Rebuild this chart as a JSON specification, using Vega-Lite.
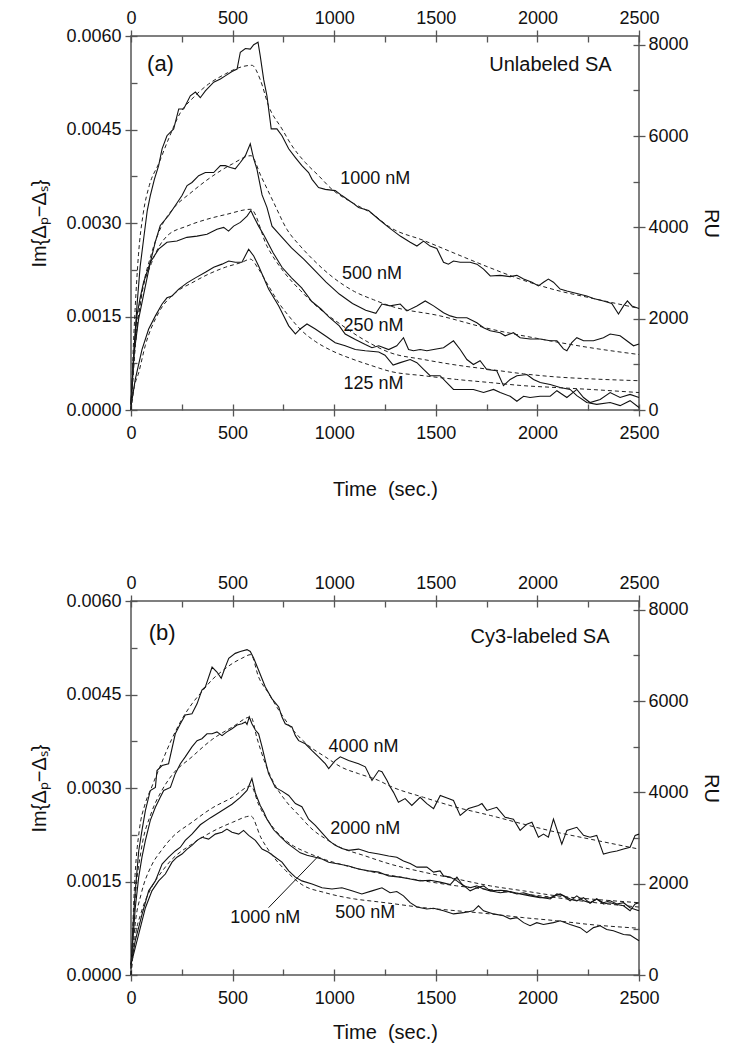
{
  "$schema": "https://vega.github.io/schema/vega-lite/v6.json",
  "padding": {"left": 29, "top": 8, "right": 12, "bottom": 0},
  "spacing": 73,
  "config": {
    "view": {"stroke": "#555", "strokeWidth": 1.5},
    "font": "Liberation Sans",
    "axis": {
      "domain": false, "grid": false, "offset": -6,
      "tickColor": "#555", "tickWidth": 1.3,
      "labelFont": "Liberation Sans", "labelFontSize": 18, "labelColor": "#111",
      "titleFont": "Liberation Sans", "titleFontSize": 20, "titleFontWeight": "normal", "titleColor": "#111",
      "labelFlush": false, "labelOverlap": false, "labelBound": false
    }
  },
  "datasets": {
    "data_a": [
      {"conc":1000,"time":0,"im":0.0001},{"conc":1000,"time":15,"im":0.001},{"conc":1000,"time":30,"im":0.0017},{"conc":1000,"time":45,"im":0.0023},{"conc":1000,"time":62,"im":0.00274},{"conc":1000,"time":80,"im":0.0032},{"conc":1000,"time":95,"im":0.00344},{"conc":1000,"time":115,"im":0.0037},{"conc":1000,"time":136,"im":0.00392},{"conc":1000,"time":153,"im":0.00419},{"conc":1000,"time":177,"im":0.0044},{"conc":1000,"time":210,"im":0.00451},{"conc":1000,"time":235,"im":0.00483},{"conc":1000,"time":259,"im":0.00483},{"conc":1000,"time":292,"im":0.00504},{"conc":1000,"time":317,"im":0.0051},{"conc":1000,"time":341,"im":0.00501},{"conc":1000,"time":366,"im":0.00512},{"conc":1000,"time":407,"im":0.00526},{"conc":1000,"time":440,"im":0.00531},{"conc":1000,"time":464,"im":0.00536},{"conc":1000,"time":497,"im":0.00543},{"conc":1000,"time":522,"im":0.00547},{"conc":1000,"time":538,"im":0.00574},{"conc":1000,"time":563,"im":0.0058},{"conc":1000,"time":587,"im":0.00579},{"conc":1000,"time":604,"im":0.00586},{"conc":1000,"time":625,"im":0.0059},{"conc":1000,"time":636,"im":0.00568},{"conc":1000,"time":653,"im":0.0053},{"conc":1000,"time":669,"im":0.00504},{"conc":1000,"time":690,"im":0.00451},{"conc":1000,"time":718,"im":0.00451},{"conc":1000,"time":743,"im":0.0044},{"conc":1000,"time":776,"im":0.00419},{"conc":1000,"time":809,"im":0.00405},{"conc":1000,"time":841,"im":0.00392},{"conc":1000,"time":874,"im":0.00381},{"conc":1000,"time":891,"im":0.0037},{"conc":1000,"time":923,"im":0.00357},{"conc":1000,"time":956,"im":0.00354},{"conc":1000,"time":1005,"im":0.00352},{"conc":1000,"time":1038,"im":0.00344},{"conc":1000,"time":1087,"im":0.00333},{"conc":1000,"time":1120,"im":0.00325},{"conc":1000,"time":1169,"im":0.0032},{"conc":1000,"time":1219,"im":0.00306},{"conc":1000,"time":1268,"im":0.00293},{"conc":1000,"time":1325,"im":0.00279},{"conc":1000,"time":1374,"im":0.00269},{"conc":1000,"time":1407,"im":0.00263},{"conc":1000,"time":1440,"im":0.00271},{"conc":1000,"time":1472,"im":0.00263},{"conc":1000,"time":1505,"im":0.00259},{"conc":1000,"time":1538,"im":0.00237},{"conc":1000,"time":1562,"im":0.00234},{"conc":1000,"time":1587,"im":0.00239},{"conc":1000,"time":1620,"im":0.00237},{"conc":1000,"time":1669,"im":0.00237},{"conc":1000,"time":1702,"im":0.00234},{"conc":1000,"time":1735,"im":0.00226},{"conc":1000,"time":1768,"im":0.00215},{"conc":1000,"time":1817,"im":0.00216},{"conc":1000,"time":1866,"im":0.00214},{"conc":1000,"time":1899,"im":0.00216},{"conc":1000,"time":1932,"im":0.0021},{"conc":1000,"time":1973,"im":0.00205},{"conc":1000,"time":2005,"im":0.00199},{"conc":1000,"time":2030,"im":0.00205},{"conc":1000,"time":2054,"im":0.0021},{"conc":1000,"time":2079,"im":0.00205},{"conc":1000,"time":2112,"im":0.00194},{"conc":1000,"time":2145,"im":0.00191},{"conc":1000,"time":2194,"im":0.00187},{"conc":1000,"time":2243,"im":0.00183},{"conc":1000,"time":2276,"im":0.00179},{"conc":1000,"time":2325,"im":0.00175},{"conc":1000,"time":2366,"im":0.00171},{"conc":1000,"time":2399,"im":0.00154},{"conc":1000,"time":2424,"im":0.00167},{"conc":1000,"time":2443,"im":0.00175},{"conc":1000,"time":2465,"im":0.00167},{"conc":1000,"time":2500,"im":0.00163},
      {"conc":500,"time":0,"im":0.0001},{"conc":500,"time":15,"im":0.0009},{"conc":500,"time":37,"im":0.00145},{"conc":500,"time":62,"im":0.00185},{"conc":500,"time":95,"im":0.00237},{"conc":500,"time":120,"im":0.0027},{"conc":500,"time":144,"im":0.00296},{"conc":500,"time":185,"im":0.00312},{"conc":500,"time":218,"im":0.00328},{"conc":500,"time":251,"im":0.00344},{"conc":500,"time":276,"im":0.0036},{"conc":500,"time":300,"im":0.00365},{"conc":500,"time":333,"im":0.00376},{"conc":500,"time":366,"im":0.00381},{"conc":500,"time":407,"im":0.00381},{"conc":500,"time":440,"im":0.00392},{"conc":500,"time":464,"im":0.00392},{"conc":500,"time":489,"im":0.00389},{"conc":500,"time":513,"im":0.00387},{"conc":500,"time":538,"im":0.00397},{"conc":500,"time":563,"im":0.00408},{"conc":500,"time":587,"im":0.00427},{"conc":500,"time":604,"im":0.00403},{"conc":500,"time":620,"im":0.00386},{"conc":500,"time":645,"im":0.00345},{"conc":500,"time":669,"im":0.00325},{"conc":500,"time":694,"im":0.00295},{"conc":500,"time":740,"im":0.00278},{"conc":500,"time":790,"im":0.0026},{"conc":500,"time":850,"im":0.00242},{"conc":500,"time":910,"im":0.00222},{"conc":500,"time":960,"im":0.00205},{"conc":500,"time":1025,"im":0.00186},{"conc":500,"time":1090,"im":0.00171},{"conc":500,"time":1155,"im":0.0016},{"conc":500,"time":1205,"im":0.00155},{"conc":500,"time":1235,"im":0.0017},{"conc":500,"time":1275,"im":0.00167},{"conc":500,"time":1325,"im":0.0017},{"conc":500,"time":1358,"im":0.00159},{"conc":500,"time":1407,"im":0.00167},{"conc":500,"time":1448,"im":0.00175},{"conc":500,"time":1489,"im":0.00167},{"conc":500,"time":1538,"im":0.00156},{"conc":500,"time":1571,"im":0.00151},{"conc":500,"time":1604,"im":0.00148},{"conc":500,"time":1653,"im":0.00148},{"conc":500,"time":1702,"im":0.0014},{"conc":500,"time":1735,"im":0.00132},{"conc":500,"time":1768,"im":0.00127},{"conc":500,"time":1817,"im":0.00124},{"conc":500,"time":1841,"im":0.00119},{"conc":500,"time":1882,"im":0.00124},{"conc":500,"time":1915,"im":0.00116},{"conc":500,"time":1964,"im":0.00114},{"conc":500,"time":2013,"im":0.00114},{"conc":500,"time":2063,"im":0.00111},{"conc":500,"time":2096,"im":0.00111},{"conc":500,"time":2128,"im":0.00098},{"conc":500,"time":2145,"im":0.00095},{"conc":500,"time":2169,"im":0.00108},{"conc":500,"time":2194,"im":0.00116},{"conc":500,"time":2227,"im":0.00111},{"conc":500,"time":2276,"im":0.00111},{"conc":500,"time":2325,"im":0.00116},{"conc":500,"time":2358,"im":0.00122},{"conc":500,"time":2407,"im":0.00119},{"conc":500,"time":2440,"im":0.00111},{"conc":500,"time":2473,"im":0.00103},{"conc":500,"time":2500,"im":0.00106},
      {"conc":250,"time":0,"im":0.00008},{"conc":250,"time":12,"im":0.0008},{"conc":250,"time":29,"im":0.00151},{"conc":250,"time":45,"im":0.0018},{"conc":250,"time":62,"im":0.00205},{"conc":250,"time":95,"im":0.00237},{"conc":250,"time":136,"im":0.00258},{"conc":250,"time":177,"im":0.00269},{"conc":250,"time":226,"im":0.00271},{"conc":250,"time":275,"im":0.00277},{"conc":250,"time":325,"im":0.00279},{"conc":250,"time":374,"im":0.00282},{"conc":250,"time":423,"im":0.0029},{"conc":250,"time":456,"im":0.00293},{"conc":250,"time":480,"im":0.00287},{"conc":250,"time":505,"im":0.00295},{"conc":250,"time":538,"im":0.00301},{"conc":250,"time":571,"im":0.00311},{"conc":250,"time":590,"im":0.0032},{"conc":250,"time":603,"im":0.00311},{"conc":250,"time":628,"im":0.00295},{"conc":250,"time":655,"im":0.0028},{"conc":250,"time":700,"im":0.00252},{"conc":250,"time":743,"im":0.00229},{"conc":250,"time":790,"im":0.00212},{"conc":250,"time":840,"im":0.00196},{"conc":250,"time":890,"im":0.00174},{"conc":250,"time":935,"im":0.00162},{"conc":250,"time":975,"im":0.00149},{"conc":250,"time":1025,"im":0.00135},{"conc":250,"time":1054,"im":0.00122},{"conc":250,"time":1104,"im":0.00113},{"conc":250,"time":1153,"im":0.00105},{"conc":250,"time":1186,"im":0.001},{"conc":250,"time":1219,"im":0.00103},{"conc":250,"time":1268,"im":0.00097},{"conc":250,"time":1308,"im":0.00103},{"conc":250,"time":1341,"im":0.00116},{"conc":250,"time":1366,"im":0.00097},{"conc":250,"time":1390,"im":0.00095},{"conc":250,"time":1423,"im":0.00097},{"conc":250,"time":1456,"im":0.00095},{"conc":250,"time":1489,"im":0.00097},{"conc":250,"time":1538,"im":0.001},{"conc":250,"time":1587,"im":0.00111},{"conc":250,"time":1620,"im":0.00097},{"conc":250,"time":1653,"im":0.00081},{"conc":250,"time":1685,"im":0.00073},{"conc":250,"time":1718,"im":0.00079},{"conc":250,"time":1751,"im":0.00065},{"conc":250,"time":1800,"im":0.00063},{"conc":250,"time":1833,"im":0.00039},{"conc":250,"time":1866,"im":0.00049},{"conc":250,"time":1899,"im":0.00055},{"conc":250,"time":1948,"im":0.00057},{"conc":250,"time":1981,"im":0.00049},{"conc":250,"time":2014,"im":0.00044},{"conc":250,"time":2063,"im":0.00041},{"conc":250,"time":2112,"im":0.00036},{"conc":250,"time":2161,"im":0.00033},{"conc":250,"time":2194,"im":0.00023},{"conc":250,"time":2243,"im":0.00012},{"conc":250,"time":2292,"im":0.00009},{"conc":250,"time":2358,"im":0.00012},{"conc":250,"time":2407,"im":0.00007},{"conc":250,"time":2456,"im":0.00015},{"conc":250,"time":2500,"im":0.00004},
      {"conc":125,"time":0,"im":0.00006},{"conc":125,"time":21,"im":0.00049},{"conc":125,"time":54,"im":0.00097},{"conc":125,"time":87,"im":0.0013},{"conc":125,"time":120,"im":0.00151},{"conc":125,"time":153,"im":0.0017},{"conc":125,"time":177,"im":0.0018},{"conc":125,"time":202,"im":0.00183},{"conc":125,"time":235,"im":0.00194},{"conc":125,"time":276,"im":0.00204},{"conc":125,"time":317,"im":0.00212},{"conc":125,"time":366,"im":0.00221},{"conc":125,"time":407,"im":0.00229},{"conc":125,"time":448,"im":0.00234},{"conc":125,"time":481,"im":0.00239},{"conc":125,"time":513,"im":0.00237},{"conc":125,"time":546,"im":0.00237},{"conc":125,"time":579,"im":0.00258},{"conc":125,"time":604,"im":0.00247},{"conc":125,"time":628,"im":0.00231},{"conc":125,"time":677,"im":0.00194},{"conc":125,"time":727,"im":0.00167},{"conc":125,"time":776,"im":0.00135},{"conc":125,"time":809,"im":0.00122},{"conc":125,"time":833,"im":0.0013},{"conc":125,"time":866,"im":0.00138},{"conc":125,"time":907,"im":0.0013},{"conc":125,"time":956,"im":0.00119},{"conc":125,"time":1005,"im":0.00108},{"conc":125,"time":1054,"im":0.00103},{"conc":125,"time":1104,"im":0.00097},{"conc":125,"time":1153,"im":0.00095},{"conc":125,"time":1219,"im":0.00093},{"conc":125,"time":1250,"im":0.00088},{"conc":125,"time":1290,"im":0.00072},{"conc":125,"time":1325,"im":0.00076},{"conc":125,"time":1374,"im":0.00081},{"conc":125,"time":1407,"im":0.00076},{"conc":125,"time":1440,"im":0.00065},{"conc":125,"time":1472,"im":0.00055},{"conc":125,"time":1521,"im":0.00055},{"conc":125,"time":1554,"im":0.00044},{"conc":125,"time":1587,"im":0.00033},{"conc":125,"time":1636,"im":0.00033},{"conc":125,"time":1685,"im":0.00033},{"conc":125,"time":1735,"im":0.00028},{"conc":125,"time":1784,"im":0.00033},{"conc":125,"time":1817,"im":0.00028},{"conc":125,"time":1866,"im":0.00022},{"conc":125,"time":1899,"im":0.00014},{"conc":125,"time":1932,"im":0.00022},{"conc":125,"time":1964,"im":0.0002},{"conc":125,"time":2013,"im":0.00022},{"conc":125,"time":2063,"im":0.00022},{"conc":125,"time":2096,"im":0.00031},{"conc":125,"time":2145,"im":0.0002},{"conc":125,"time":2194,"im":0.00033},{"conc":125,"time":2227,"im":0.0002},{"conc":125,"time":2259,"im":0.00012},{"conc":125,"time":2309,"im":0.00017},{"conc":125,"time":2358,"im":0.00028},{"conc":125,"time":2407,"im":0.0002},{"conc":125,"time":2456,"im":0.00025},{"conc":125,"time":2500,"im":0.0002}
    ],
    "fit_a": [
      {"conc":1000,"time":0,"im":0},{"conc":1000,"time":10,"im":0.0009},{"conc":1000,"time":20,"im":0.0016},{"conc":1000,"time":37,"im":0.0025},{"conc":1000,"time":60,"im":0.00315},{"conc":1000,"time":90,"im":0.0036},{"conc":1000,"time":136,"im":0.00395},{"conc":1000,"time":185,"im":0.00435},{"conc":1000,"time":243,"im":0.00477},{"conc":1000,"time":300,"im":0.00499},{"conc":1000,"time":382,"im":0.00523},{"conc":1000,"time":464,"im":0.00539},{"conc":1000,"time":513,"im":0.00547},{"conc":1000,"time":595,"im":0.00553},{"conc":1000,"time":636,"im":0.0053},{"conc":1000,"time":677,"im":0.00488},{"conc":1000,"time":743,"im":0.00451},{"conc":1000,"time":792,"im":0.00424},{"conc":1000,"time":858,"im":0.00397},{"conc":1000,"time":923,"im":0.00376},{"conc":1000,"time":989,"im":0.00354},{"conc":1000,"time":1087,"im":0.00333},{"conc":1000,"time":1186,"im":0.00315},{"conc":1000,"time":1275,"im":0.00293},{"conc":1000,"time":1440,"im":0.00272},{"conc":1000,"time":1603,"im":0.0025},{"conc":1000,"time":1768,"im":0.00228},{"conc":1000,"time":1932,"im":0.00208},{"conc":1000,"time":2095,"im":0.00192},{"conc":1000,"time":2259,"im":0.0018},{"conc":1000,"time":2500,"im":0.00163},
      {"conc":500,"time":0,"im":0},{"conc":500,"time":20,"im":0.001},{"conc":500,"time":50,"im":0.0018},{"conc":500,"time":100,"im":0.0025},{"conc":500,"time":150,"im":0.00295},{"conc":500,"time":200,"im":0.0032},{"conc":500,"time":300,"im":0.0035},{"conc":500,"time":400,"im":0.00375},{"conc":500,"time":500,"im":0.00395},{"conc":500,"time":590,"im":0.00408},{"conc":500,"time":640,"im":0.00375},{"conc":500,"time":702,"im":0.00333},{"conc":500,"time":767,"im":0.0029},{"conc":500,"time":833,"im":0.00263},{"conc":500,"time":900,"im":0.0024},{"conc":500,"time":997,"im":0.00212},{"conc":500,"time":1100,"im":0.0019},{"conc":500,"time":1193,"im":0.00177},{"conc":500,"time":1275,"im":0.00167},{"conc":500,"time":1521,"im":0.00151},{"conc":500,"time":1768,"im":0.0013},{"conc":500,"time":2013,"im":0.00114},{"conc":500,"time":2259,"im":0.001},{"conc":500,"time":2500,"im":0.00089},
      {"conc":250,"time":0,"im":0},{"conc":250,"time":20,"im":0.001},{"conc":250,"time":50,"im":0.0018},{"conc":250,"time":100,"im":0.00235},{"conc":250,"time":177,"im":0.00279},{"conc":250,"time":275,"im":0.00295},{"conc":250,"time":374,"im":0.00306},{"conc":250,"time":472,"im":0.00314},{"conc":250,"time":590,"im":0.00322},{"conc":250,"time":669,"im":0.00263},{"conc":250,"time":751,"im":0.00222},{"conc":250,"time":833,"im":0.00192},{"conc":250,"time":915,"im":0.00166},{"conc":250,"time":1029,"im":0.00138},{"conc":250,"time":1150,"im":0.00112},{"conc":250,"time":1275,"im":0.00092},{"conc":250,"time":1440,"im":0.00081},{"conc":250,"time":1603,"im":0.00072},{"conc":250,"time":1768,"im":0.00065},{"conc":250,"time":1932,"im":0.00058},{"conc":250,"time":2095,"im":0.00053},{"conc":250,"time":2259,"im":0.0005},{"conc":250,"time":2500,"im":0.00047},
      {"conc":125,"time":0,"im":0},{"conc":125,"time":15,"im":0.00035},{"conc":125,"time":38,"im":0.0006},{"conc":125,"time":70,"im":0.00103},{"conc":125,"time":136,"im":0.00156},{"conc":125,"time":218,"im":0.00188},{"conc":125,"time":300,"im":0.00204},{"conc":125,"time":382,"im":0.00218},{"conc":125,"time":464,"im":0.00229},{"conc":125,"time":546,"im":0.00237},{"conc":125,"time":587,"im":0.00242},{"conc":125,"time":628,"im":0.00226},{"conc":125,"time":677,"im":0.00199},{"conc":125,"time":727,"im":0.00172},{"conc":125,"time":776,"im":0.00151},{"conc":125,"time":841,"im":0.00127},{"conc":125,"time":907,"im":0.0011},{"conc":125,"time":989,"im":0.00095},{"conc":125,"time":1087,"im":0.00082},{"conc":125,"time":1186,"im":0.00071},{"conc":125,"time":1275,"im":0.00062},{"conc":125,"time":1440,"im":0.00055},{"conc":125,"time":1603,"im":0.00049},{"conc":125,"time":1768,"im":0.00044},{"conc":125,"time":1932,"im":0.00039},{"conc":125,"time":2095,"im":0.00036},{"conc":125,"time":2259,"im":0.00033},{"conc":125,"time":2500,"im":0.00028}
    ],
    "data_b": [
      {"conc":4000,"time":0,"im":0.0001},{"conc":4000,"time":10,"im":0.0008},{"conc":4000,"time":21,"im":0.00135},{"conc":4000,"time":38,"im":0.00199},{"conc":4000,"time":54,"im":0.00232},{"conc":4000,"time":71,"im":0.00264},{"conc":4000,"time":95,"im":0.00296},{"conc":4000,"time":120,"im":0.00301},{"conc":4000,"time":128,"im":0.00328},{"conc":4000,"time":153,"im":0.00336},{"conc":4000,"time":185,"im":0.00339},{"conc":4000,"time":218,"im":0.00387},{"conc":4000,"time":243,"im":0.00403},{"conc":4000,"time":267,"im":0.00417},{"conc":4000,"time":300,"im":0.00419},{"conc":4000,"time":325,"im":0.00435},{"conc":4000,"time":349,"im":0.00457},{"conc":4000,"time":366,"im":0.00462},{"conc":4000,"time":399,"im":0.00494},{"conc":4000,"time":423,"im":0.00486},{"conc":4000,"time":444,"im":0.00476},{"conc":4000,"time":464,"im":0.00494},{"conc":4000,"time":481,"im":0.00508},{"conc":4000,"time":513,"im":0.00516},{"conc":4000,"time":538,"im":0.00519},{"conc":4000,"time":571,"im":0.00522},{"conc":4000,"time":587,"im":0.00519},{"conc":4000,"time":604,"im":0.00508},{"conc":4000,"time":628,"im":0.00489},{"conc":4000,"time":661,"im":0.00462},{"conc":4000,"time":694,"im":0.00443},{"conc":4000,"time":727,"im":0.0043},{"conc":4000,"time":743,"im":0.00414},{"conc":4000,"time":759,"im":0.00403},{"conc":4000,"time":792,"im":0.00398},{"conc":4000,"time":809,"im":0.00384},{"conc":4000,"time":825,"im":0.00376},{"conc":4000,"time":858,"im":0.00371},{"conc":4000,"time":891,"im":0.0036},{"conc":4000,"time":923,"im":0.0035},{"conc":4000,"time":956,"im":0.00339},{"conc":4000,"time":973,"im":0.00331},{"conc":4000,"time":1005,"im":0.00344},{"conc":4000,"time":1030,"im":0.0035},{"conc":4000,"time":1071,"im":0.00344},{"conc":4000,"time":1120,"im":0.00339},{"conc":4000,"time":1153,"im":0.00334},{"conc":4000,"time":1186,"im":0.00312},{"conc":4000,"time":1219,"im":0.00328},{"conc":4000,"time":1235,"im":0.00326},{"conc":4000,"time":1260,"im":0.00312},{"conc":4000,"time":1275,"im":0.00302},{"conc":4000,"time":1292,"im":0.00293},{"conc":4000,"time":1316,"im":0.00277},{"conc":4000,"time":1349,"im":0.00283},{"conc":4000,"time":1382,"im":0.00272},{"conc":4000,"time":1423,"im":0.00285},{"conc":4000,"time":1456,"im":0.00275},{"conc":4000,"time":1489,"im":0.00267},{"conc":4000,"time":1522,"im":0.00288},{"conc":4000,"time":1562,"im":0.00283},{"conc":4000,"time":1587,"im":0.0028},{"conc":4000,"time":1620,"im":0.00256},{"conc":4000,"time":1661,"im":0.00267},{"conc":4000,"time":1710,"im":0.00272},{"conc":4000,"time":1727,"im":0.00275},{"conc":4000,"time":1751,"im":0.00264},{"conc":4000,"time":1800,"im":0.00269},{"conc":4000,"time":1841,"im":0.00253},{"conc":4000,"time":1882,"im":0.0025},{"conc":4000,"time":1915,"im":0.00232},{"conc":4000,"time":1948,"im":0.00242},{"conc":4000,"time":1973,"im":0.00245},{"conc":4000,"time":2005,"im":0.00221},{"conc":4000,"time":2030,"im":0.00226},{"conc":4000,"time":2054,"im":0.00221},{"conc":4000,"time":2079,"im":0.0025},{"conc":4000,"time":2120,"im":0.0021},{"conc":4000,"time":2145,"im":0.00232},{"conc":4000,"time":2194,"im":0.00237},{"conc":4000,"time":2227,"im":0.00224},{"conc":4000,"time":2259,"im":0.00221},{"conc":4000,"time":2292,"im":0.00224},{"conc":4000,"time":2325,"im":0.00194},{"conc":4000,"time":2358,"im":0.00197},{"conc":4000,"time":2391,"im":0.00199},{"conc":4000,"time":2424,"im":0.00202},{"conc":4000,"time":2456,"im":0.00205},{"conc":4000,"time":2481,"im":0.00224},{"conc":4000,"time":2500,"im":0.00226},
      {"conc":2000,"time":0,"im":0.00015},{"conc":2000,"time":21,"im":0.00108},{"conc":2000,"time":38,"im":0.00157},{"conc":2000,"time":54,"im":0.00189},{"conc":2000,"time":71,"im":0.00216},{"conc":2000,"time":95,"im":0.00248},{"conc":2000,"time":120,"im":0.00269},{"conc":2000,"time":144,"im":0.00285},{"conc":2000,"time":161,"im":0.00296},{"conc":2000,"time":194,"im":0.00301},{"conc":2000,"time":218,"im":0.00323},{"conc":2000,"time":243,"im":0.00339},{"conc":2000,"time":267,"im":0.0035},{"conc":2000,"time":300,"im":0.00366},{"conc":2000,"time":325,"im":0.00376},{"conc":2000,"time":349,"im":0.00379},{"conc":2000,"time":374,"im":0.00387},{"conc":2000,"time":399,"im":0.00387},{"conc":2000,"time":423,"im":0.0039},{"conc":2000,"time":448,"im":0.00384},{"conc":2000,"time":472,"im":0.0039},{"conc":2000,"time":497,"im":0.00395},{"conc":2000,"time":522,"im":0.00401},{"conc":2000,"time":546,"im":0.00403},{"conc":2000,"time":563,"im":0.00406},{"conc":2000,"time":571,"im":0.00402},{"conc":2000,"time":582,"im":0.00414},{"conc":2000,"time":595,"im":0.00403},{"conc":2000,"time":612,"im":0.00393},{"conc":2000,"time":628,"im":0.00387},{"conc":2000,"time":645,"im":0.00366},{"conc":2000,"time":661,"im":0.00344},{"conc":2000,"time":677,"im":0.00323},{"conc":2000,"time":694,"im":0.00312},{"conc":2000,"time":710,"im":0.00301},{"conc":2000,"time":743,"im":0.00295},{"conc":2000,"time":776,"im":0.00288},{"conc":2000,"time":809,"im":0.00275},{"conc":2000,"time":841,"im":0.0027},{"conc":2000,"time":874,"im":0.0025},{"conc":2000,"time":907,"im":0.0024},{"conc":2000,"time":940,"im":0.00228},{"conc":2000,"time":973,"im":0.00216},{"conc":2000,"time":1005,"im":0.00208},{"conc":2000,"time":1038,"im":0.00203},{"conc":2000,"time":1071,"im":0.002},{"conc":2000,"time":1120,"im":0.00202},{"conc":2000,"time":1169,"im":0.00197},{"conc":2000,"time":1219,"im":0.00194},{"conc":2000,"time":1268,"im":0.00191},{"conc":2000,"time":1308,"im":0.00189},{"conc":2000,"time":1341,"im":0.00183},{"conc":2000,"time":1374,"im":0.00179},{"conc":2000,"time":1407,"im":0.00173},{"conc":2000,"time":1456,"im":0.00173},{"conc":2000,"time":1489,"im":0.00165},{"conc":2000,"time":1521,"im":0.00167},{"conc":2000,"time":1538,"im":0.00159},{"conc":2000,"time":1570,"im":0.00157},{"conc":2000,"time":1604,"im":0.00151},{"conc":2000,"time":1636,"im":0.00143},{"conc":2000,"time":1669,"im":0.0014},{"conc":2000,"time":1702,"im":0.00143},{"conc":2000,"time":1735,"im":0.00138},{"conc":2000,"time":1768,"im":0.00135},{"conc":2000,"time":1817,"im":0.00136},{"conc":2000,"time":1849,"im":0.00135},{"conc":2000,"time":1899,"im":0.0013},{"conc":2000,"time":1932,"im":0.00132},{"conc":2000,"time":1981,"im":0.00127},{"conc":2000,"time":2030,"im":0.00124},{"conc":2000,"time":2063,"im":0.00122},{"conc":2000,"time":2096,"im":0.0013},{"conc":2000,"time":2128,"im":0.00127},{"conc":2000,"time":2161,"im":0.00119},{"conc":2000,"time":2194,"im":0.00127},{"conc":2000,"time":2227,"im":0.00119},{"conc":2000,"time":2259,"im":0.00116},{"conc":2000,"time":2292,"im":0.00122},{"conc":2000,"time":2325,"im":0.00114},{"conc":2000,"time":2358,"im":0.00116},{"conc":2000,"time":2391,"im":0.00113},{"conc":2000,"time":2424,"im":0.00111},{"conc":2000,"time":2456,"im":0.00103},{"conc":2000,"time":2481,"im":0.00114},{"conc":2000,"time":2500,"im":0.00116},
      {"conc":1000,"time":0,"im":0.00017},{"conc":1000,"time":21,"im":0.00055},{"conc":1000,"time":54,"im":0.00097},{"conc":1000,"time":87,"im":0.00135},{"conc":1000,"time":120,"im":0.00151},{"conc":1000,"time":153,"im":0.00178},{"conc":1000,"time":185,"im":0.00189},{"conc":1000,"time":218,"im":0.00199},{"conc":1000,"time":243,"im":0.00205},{"conc":1000,"time":267,"im":0.00216},{"conc":1000,"time":300,"im":0.00226},{"conc":1000,"time":341,"im":0.00241},{"conc":1000,"time":390,"im":0.00252},{"conc":1000,"time":439,"im":0.00262},{"conc":1000,"time":497,"im":0.00274},{"conc":1000,"time":538,"im":0.00285},{"conc":1000,"time":571,"im":0.00296},{"conc":1000,"time":595,"im":0.00315},{"conc":1000,"time":612,"im":0.00292},{"conc":1000,"time":636,"im":0.00272},{"conc":1000,"time":653,"im":0.00262},{"conc":1000,"time":669,"im":0.0025},{"conc":1000,"time":702,"im":0.00233},{"conc":1000,"time":735,"im":0.00222},{"conc":1000,"time":767,"im":0.00212},{"conc":1000,"time":800,"im":0.00204},{"conc":1000,"time":833,"im":0.00196},{"conc":1000,"time":866,"im":0.00192},{"conc":1000,"time":907,"im":0.00189},{"conc":1000,"time":940,"im":0.00186},{"conc":1000,"time":973,"im":0.00181},{"conc":1000,"time":1022,"im":0.00178},{"conc":1000,"time":1071,"im":0.00175},{"conc":1000,"time":1120,"im":0.0017},{"conc":1000,"time":1169,"im":0.00167},{"conc":1000,"time":1219,"im":0.00165},{"conc":1000,"time":1268,"im":0.00159},{"conc":1000,"time":1325,"im":0.00157},{"conc":1000,"time":1374,"im":0.00154},{"conc":1000,"time":1423,"im":0.00151},{"conc":1000,"time":1472,"im":0.00152},{"conc":1000,"time":1521,"im":0.00149},{"conc":1000,"time":1571,"im":0.00145},{"conc":1000,"time":1604,"im":0.00157},{"conc":1000,"time":1628,"im":0.00146},{"conc":1000,"time":1669,"im":0.00135},{"conc":1000,"time":1702,"im":0.0014},{"conc":1000,"time":1735,"im":0.00143},{"conc":1000,"time":1768,"im":0.00135},{"conc":1000,"time":1817,"im":0.00132},{"conc":1000,"time":1866,"im":0.00134},{"conc":1000,"time":1915,"im":0.0013},{"conc":1000,"time":1964,"im":0.00127},{"conc":1000,"time":2013,"im":0.00124},{"conc":1000,"time":2063,"im":0.00124},{"conc":1000,"time":2112,"im":0.0013},{"conc":1000,"time":2161,"im":0.00122},{"conc":1000,"time":2194,"im":0.00119},{"conc":1000,"time":2227,"im":0.00124},{"conc":1000,"time":2259,"im":0.00115},{"conc":1000,"time":2292,"im":0.00122},{"conc":1000,"time":2325,"im":0.00116},{"conc":1000,"time":2358,"im":0.00119},{"conc":1000,"time":2391,"im":0.00114},{"conc":1000,"time":2424,"im":0.00116},{"conc":1000,"time":2456,"im":0.00108},{"conc":1000,"time":2500,"im":0.00103},
      {"conc":500,"time":0,"im":0.00017},{"conc":500,"time":21,"im":0.00044},{"conc":500,"time":46,"im":0.00076},{"conc":500,"time":71,"im":0.00108},{"conc":500,"time":103,"im":0.00135},{"conc":500,"time":136,"im":0.00151},{"conc":500,"time":169,"im":0.00162},{"conc":500,"time":202,"im":0.00181},{"conc":500,"time":226,"im":0.00189},{"conc":500,"time":251,"im":0.00194},{"conc":500,"time":276,"im":0.00202},{"conc":500,"time":300,"im":0.00208},{"conc":500,"time":325,"im":0.00216},{"conc":500,"time":349,"im":0.00221},{"conc":500,"time":382,"im":0.00218},{"conc":500,"time":415,"im":0.00226},{"conc":500,"time":448,"im":0.00229},{"conc":500,"time":472,"im":0.00234},{"conc":500,"time":497,"im":0.00229},{"conc":500,"time":530,"im":0.00226},{"conc":500,"time":554,"im":0.00232},{"conc":500,"time":579,"im":0.00224},{"conc":500,"time":612,"im":0.00216},{"conc":500,"time":645,"im":0.00202},{"conc":500,"time":677,"im":0.00197},{"conc":500,"time":710,"im":0.00189},{"conc":500,"time":743,"im":0.00181},{"conc":500,"time":776,"im":0.00167},{"conc":500,"time":809,"im":0.00157},{"conc":500,"time":841,"im":0.00151},{"conc":500,"time":891,"im":0.00146},{"conc":500,"time":940,"im":0.0014},{"conc":500,"time":989,"im":0.00138},{"conc":500,"time":1038,"im":0.0014},{"conc":500,"time":1087,"im":0.00135},{"conc":500,"time":1136,"im":0.0013},{"conc":500,"time":1186,"im":0.00135},{"conc":500,"time":1235,"im":0.0014},{"conc":500,"time":1275,"im":0.00132},{"conc":500,"time":1308,"im":0.00134},{"conc":500,"time":1341,"im":0.00127},{"conc":500,"time":1374,"im":0.00116},{"conc":500,"time":1407,"im":0.00109},{"conc":500,"time":1456,"im":0.00106},{"conc":500,"time":1489,"im":0.00107},{"conc":500,"time":1538,"im":0.00103},{"conc":500,"time":1587,"im":0.00098},{"conc":500,"time":1636,"im":0.001},{"conc":500,"time":1685,"im":0.00103},{"conc":500,"time":1710,"im":0.00111},{"conc":500,"time":1735,"im":0.00103},{"conc":500,"time":1784,"im":0.00098},{"conc":500,"time":1833,"im":0.00095},{"conc":500,"time":1866,"im":0.0009},{"conc":500,"time":1899,"im":0.00092},{"conc":500,"time":1932,"im":0.00084},{"conc":500,"time":1964,"im":0.00079},{"conc":500,"time":1997,"im":0.00084},{"conc":500,"time":2030,"im":0.00081},{"conc":500,"time":2079,"im":0.00084},{"conc":500,"time":2112,"im":0.00087},{"conc":500,"time":2161,"im":0.00081},{"conc":500,"time":2210,"im":0.00076},{"conc":500,"time":2243,"im":0.00068},{"conc":500,"time":2276,"im":0.00076},{"conc":500,"time":2309,"im":0.00079},{"conc":500,"time":2341,"im":0.00073},{"conc":500,"time":2374,"im":0.00071},{"conc":500,"time":2424,"im":0.00065},{"conc":500,"time":2456,"im":0.00064},{"conc":500,"time":2500,"im":0.00055}
    ],
    "fit_b": [
      {"conc":4000,"time":0,"im":0},{"conc":4000,"time":20,"im":0.0016},{"conc":4000,"time":40,"im":0.0023},{"conc":4000,"time":70,"im":0.00275},{"conc":4000,"time":100,"im":0.003},{"conc":4000,"time":150,"im":0.0034},{"conc":4000,"time":200,"im":0.00378},{"conc":4000,"time":250,"im":0.0041},{"conc":4000,"time":300,"im":0.00435},{"conc":4000,"time":350,"im":0.00455},{"conc":4000,"time":400,"im":0.00474},{"conc":4000,"time":450,"im":0.00488},{"conc":4000,"time":500,"im":0.005},{"conc":4000,"time":545,"im":0.00508},{"conc":4000,"time":590,"im":0.00514},{"conc":4000,"time":628,"im":0.00478},{"conc":4000,"time":677,"im":0.00452},{"conc":4000,"time":727,"im":0.00425},{"conc":4000,"time":792,"im":0.00395},{"conc":4000,"time":874,"im":0.00368},{"conc":4000,"time":956,"im":0.0035},{"conc":4000,"time":1038,"im":0.00333},{"conc":4000,"time":1120,"im":0.00323},{"conc":4000,"time":1219,"im":0.00312},{"conc":4000,"time":1275,"im":0.00303},{"conc":4000,"time":1440,"im":0.00285},{"conc":4000,"time":1603,"im":0.00269},{"conc":4000,"time":1768,"im":0.00256},{"conc":4000,"time":1932,"im":0.00242},{"conc":4000,"time":2095,"im":0.00229},{"conc":4000,"time":2259,"im":0.00218},{"conc":4000,"time":2500,"im":0.00202},
      {"conc":2000,"time":0,"im":0},{"conc":2000,"time":20,"im":0.0012},{"conc":2000,"time":50,"im":0.002},{"conc":2000,"time":100,"im":0.0026},{"conc":2000,"time":150,"im":0.00295},{"conc":2000,"time":200,"im":0.0032},{"conc":2000,"time":300,"im":0.0035},{"conc":2000,"time":400,"im":0.00378},{"conc":2000,"time":500,"im":0.00398},{"conc":2000,"time":590,"im":0.00414},{"conc":2000,"time":620,"im":0.0038},{"conc":2000,"time":660,"im":0.0034},{"conc":2000,"time":700,"im":0.0031},{"conc":2000,"time":760,"im":0.0028},{"conc":2000,"time":830,"im":0.00255},{"conc":2000,"time":891,"im":0.00234},{"conc":2000,"time":960,"im":0.00218},{"conc":2000,"time":1022,"im":0.00206},{"conc":2000,"time":1153,"im":0.00191},{"conc":2000,"time":1275,"im":0.00178},{"conc":2000,"time":1440,"im":0.00165},{"conc":2000,"time":1603,"im":0.00154},{"conc":2000,"time":1768,"im":0.00143},{"conc":2000,"time":1932,"im":0.00135},{"conc":2000,"time":2095,"im":0.00127},{"conc":2000,"time":2259,"im":0.00122},{"conc":2000,"time":2500,"im":0.00116},
      {"conc":1000,"time":0,"im":0},{"conc":1000,"time":20,"im":0.0008},{"conc":1000,"time":50,"im":0.0013},{"conc":1000,"time":100,"im":0.00175},{"conc":1000,"time":150,"im":0.002},{"conc":1000,"time":200,"im":0.0022},{"conc":1000,"time":300,"im":0.00245},{"conc":1000,"time":400,"im":0.00268},{"conc":1000,"time":500,"im":0.00285},{"conc":1000,"time":590,"im":0.00303},{"conc":1000,"time":630,"im":0.00272},{"conc":1000,"time":680,"im":0.00245},{"conc":1000,"time":740,"im":0.00222},{"conc":1000,"time":800,"im":0.00207},{"conc":1000,"time":870,"im":0.00196},{"conc":1000,"time":956,"im":0.00185},{"conc":1000,"time":1050,"im":0.00176},{"conc":1000,"time":1150,"im":0.00168},{"conc":1000,"time":1275,"im":0.0016},{"conc":1000,"time":1440,"im":0.00151},{"conc":1000,"time":1603,"im":0.00143},{"conc":1000,"time":1768,"im":0.00137},{"conc":1000,"time":1932,"im":0.0013},{"conc":1000,"time":2095,"im":0.00124},{"conc":1000,"time":2259,"im":0.00117},{"conc":1000,"time":2500,"im":0.00109},
      {"conc":500,"time":0,"im":0},{"conc":500,"time":20,"im":0.0006},{"conc":500,"time":50,"im":0.001},{"conc":500,"time":100,"im":0.0014},{"conc":500,"time":150,"im":0.00165},{"conc":500,"time":200,"im":0.00185},{"conc":500,"time":300,"im":0.0021},{"conc":500,"time":400,"im":0.0023},{"conc":500,"time":500,"im":0.00245},{"conc":500,"time":590,"im":0.00255},{"conc":500,"time":640,"im":0.0022},{"conc":500,"time":700,"im":0.0019},{"conc":500,"time":760,"im":0.00168},{"conc":500,"time":841,"im":0.00145},{"conc":500,"time":956,"im":0.00132},{"conc":500,"time":1100,"im":0.00122},{"conc":500,"time":1200,"im":0.00118},{"conc":500,"time":1275,"im":0.00115},{"conc":500,"time":1440,"im":0.00108},{"conc":500,"time":1603,"im":0.00103},{"conc":500,"time":1768,"im":0.00098},{"conc":500,"time":1932,"im":0.00092},{"conc":500,"time":2095,"im":0.00087},{"conc":500,"time":2259,"im":0.00081},{"conc":500,"time":2500,"im":0.00075}
    ],
    "labels": [
      {"panel":"a","role":"tag","label":"(a)","time":79,"im":0.00555},
      {"panel":"a","role":"title","label":"Unlabeled SA","time":2365,"im":0.00553},
      {"panel":"a","role":"conc","label":"1000 nM","time":1030,"im":0.0037},
      {"panel":"a","role":"conc","label":"500 nM","time":1038,"im":0.00218},
      {"panel":"a","role":"conc","label":"250 nM","time":1046,"im":0.00135},
      {"panel":"a","role":"conc","label":"125 nM","time":1046,"im":0.00041},
      {"panel":"b","role":"tag","label":"(b)","time":87,"im":0.00549},
      {"panel":"b","role":"title","label":"Cy3-labeled SA","time":2355,"im":0.00542},
      {"panel":"b","role":"conc","label":"4000 nM","time":972,"im":0.00366},
      {"panel":"b","role":"conc","label":"2000 nM","time":980,"im":0.00234},
      {"panel":"b","role":"conc","label":"1000 nM","time":488,"im":0.00092},
      {"panel":"b","role":"conc","label":"500 nM","time":1005,"im":0.001}
    ],
    "pointer": [
      {"panel":"b","time":677,"im":0.00108,"time2":923,"im2":0.00191}
    ]
  },
  "vconcat": [
    {
      "width": 508, "height": 374,
      "layer": [
        {
          "encoding": {
            "x": {"field": "time", "type": "quantitative", "scale": {"domain": [0, 2500], "nice": false},
              "axis": {"orient": "bottom", "title": "Time\u00a0\u00a0(sec.)", "values": [0,250,500,750,1000,1250,1500,1750,2000,2250,2500], "format": "d",
                "labelExpr": "datum.value % 500 === 0 ? datum.label : ''",
                "tickSize": {"condition": {"test": "datum.value % 500 === 0", "value": 12}, "value": 6},
                "labelPadding": 8, "titlePadding": 37}},
            "y": {"field": "im", "type": "quantitative", "scale": {"domain": [0, 0.006], "nice": false},
              "axis": {"orient": "left", "title": "Im{Δₚ−Δₛ}", "values": [0,0.00075,0.0015,0.00225,0.003,0.00375,0.0045,0.00525,0.006], "format": ".4f",
                "labelExpr": "abs(datum.value/0.0015 - round(datum.value/0.0015)) < 0.01 ? datum.label : ''",
                "tickSize": {"condition": {"test": "abs(datum.value/0.0015 - round(datum.value/0.0015)) < 0.01", "value": 12}, "value": 6},
                "labelPadding": 4, "titlePadding": 16}}
          },
          "layer": [
            {"data": {"name": "data_a"}, "mark": {"type": "line", "color": "#111", "strokeWidth": 1.1},
             "encoding": {"detail": {"field": "conc", "type": "nominal"}}},
            {"data": {"name": "fit_a"}, "mark": {"type": "line", "color": "#222", "strokeWidth": 1, "strokeDash": [4, 3], "interpolate": "monotone"},
             "encoding": {"detail": {"field": "conc", "type": "nominal"}}},
            {"data": {"name": "labels"}, "transform": [{"filter": "datum.panel === 'a' && datum.role === 'conc'"}],
             "mark": {"type": "text", "align": "left", "baseline": "middle", "fontSize": 18, "color": "#111"},
             "encoding": {"text": {"field": "label"}}},
            {"data": {"name": "labels"}, "transform": [{"filter": "datum.panel === 'a' && datum.role === 'tag'"}],
             "mark": {"type": "text", "align": "left", "baseline": "middle", "fontSize": 22, "color": "#111"},
             "encoding": {"text": {"field": "label"}}},
            {"data": {"name": "labels"}, "transform": [{"filter": "datum.panel === 'a' && datum.role === 'title'"}],
             "mark": {"type": "text", "align": "right", "baseline": "middle", "fontSize": 20, "color": "#111"},
             "encoding": {"text": {"field": "label"}}}
          ]
        },
        {
          "data": {"values": [{"time": 0, "ru": 0}]},
          "mark": {"type": "point", "opacity": 0},
          "encoding": {
            "x": {"field": "time", "type": "quantitative", "scale": {"domain": [0, 2500], "nice": false},
              "axis": {"orient": "top", "title": null, "values": [0,250,500,750,1000,1250,1500,1750,2000,2250,2500], "format": "d",
                "labelExpr": "datum.value % 500 === 0 ? datum.label : ''",
                "tickSize": {"condition": {"test": "datum.value % 500 === 0", "value": 12}, "value": 6},
                "labelPadding": 3}},
            "y": {"field": "ru", "type": "quantitative", "scale": {"domain": [0, 8190], "nice": false},
              "axis": {"orient": "right", "title": "RU", "values": [0,1000,2000,3000,4000,5000,6000,7000,8000], "format": "d",
                "labelExpr": "datum.value % 2000 === 0 ? datum.label : ''",
                "tickSize": {"condition": {"test": "datum.value % 2000 === 0", "value": 12}, "value": 6},
                "labelPadding": 3, "titlePadding": 12}}
          }
        }
      ],
      "resolve": {"scale": {"x": "independent", "y": "independent"}}
    },
    {
      "width": 508, "height": 374,
      "layer": [
        {
          "encoding": {
            "x": {"field": "time", "type": "quantitative", "scale": {"domain": [0, 2500], "nice": false},
              "axis": {"orient": "bottom", "title": "Time\u00a0\u00a0(sec.)", "values": [0,250,500,750,1000,1250,1500,1750,2000,2250,2500], "format": "d",
                "labelExpr": "datum.value % 500 === 0 ? datum.label : ''",
                "tickSize": {"condition": {"test": "datum.value % 500 === 0", "value": 12}, "value": 6},
                "labelPadding": 8, "titlePadding": 15}},
            "y": {"field": "im", "type": "quantitative", "scale": {"domain": [0, 0.006], "nice": false},
              "axis": {"orient": "left", "title": "Im{Δₚ−Δₛ}", "values": [0,0.00075,0.0015,0.00225,0.003,0.00375,0.0045,0.00525,0.006], "format": ".4f",
                "labelExpr": "abs(datum.value/0.0015 - round(datum.value/0.0015)) < 0.01 ? datum.label : ''",
                "tickSize": {"condition": {"test": "abs(datum.value/0.0015 - round(datum.value/0.0015)) < 0.01", "value": 12}, "value": 6},
                "labelPadding": 4, "titlePadding": 16}}
          },
          "layer": [
            {"data": {"name": "data_b"}, "mark": {"type": "line", "color": "#111", "strokeWidth": 1.1},
             "encoding": {"detail": {"field": "conc", "type": "nominal"}}},
            {"data": {"name": "fit_b"}, "mark": {"type": "line", "color": "#222", "strokeWidth": 1, "strokeDash": [4, 3], "interpolate": "monotone"},
             "encoding": {"detail": {"field": "conc", "type": "nominal"}}},
            {"data": {"name": "pointer"}, "mark": {"type": "rule", "color": "#111", "strokeWidth": 1},
             "encoding": {"x2": {"field": "time2"}, "y2": {"field": "im2"}}},
            {"data": {"name": "labels"}, "transform": [{"filter": "datum.panel === 'b' && datum.role === 'conc'"}],
             "mark": {"type": "text", "align": "left", "baseline": "middle", "fontSize": 18, "color": "#111"},
             "encoding": {"text": {"field": "label"}}},
            {"data": {"name": "labels"}, "transform": [{"filter": "datum.panel === 'b' && datum.role === 'tag'"}],
             "mark": {"type": "text", "align": "left", "baseline": "middle", "fontSize": 22, "color": "#111"},
             "encoding": {"text": {"field": "label"}}},
            {"data": {"name": "labels"}, "transform": [{"filter": "datum.panel === 'b' && datum.role === 'title'"}],
             "mark": {"type": "text", "align": "right", "baseline": "middle", "fontSize": 20, "color": "#111"},
             "encoding": {"text": {"field": "label"}}}
          ]
        },
        {
          "data": {"values": [{"time": 0, "ru": 0}]},
          "mark": {"type": "point", "opacity": 0},
          "encoding": {
            "x": {"field": "time", "type": "quantitative", "scale": {"domain": [0, 2500], "nice": false},
              "axis": {"orient": "top", "title": null, "values": [0,250,500,750,1000,1250,1500,1750,2000,2250,2500], "format": "d",
                "labelExpr": "datum.value % 500 === 0 ? datum.label : ''",
                "tickSize": {"condition": {"test": "datum.value % 500 === 0", "value": 12}, "value": 6},
                "labelPadding": 3}},
            "y": {"field": "ru", "type": "quantitative", "scale": {"domain": [0, 8190], "nice": false},
              "axis": {"orient": "right", "title": "RU", "values": [0,1000,2000,3000,4000,5000,6000,7000,8000], "format": "d",
                "labelExpr": "datum.value % 2000 === 0 ? datum.label : ''",
                "tickSize": {"condition": {"test": "datum.value % 2000 === 0", "value": 12}, "value": 6},
                "labelPadding": 3, "titlePadding": 12}}
          }
        }
      ],
      "resolve": {"scale": {"x": "independent", "y": "independent"}}
    }
  ]
}
